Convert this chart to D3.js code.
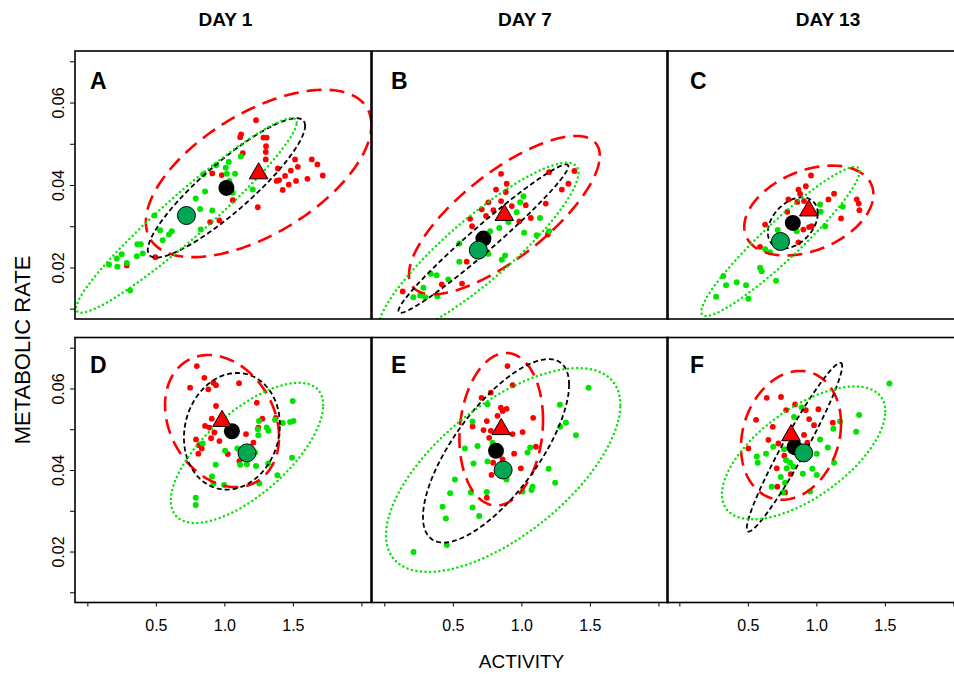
<!DOCTYPE html>
<html>
<head>
<meta charset="UTF-8">
<script src="https://d3js.org/d3.v7.min.js"></script>
<style>
  body { margin: 0; background: #fff; }
  svg { display: block; font-family: "Liberation Sans", Arial, sans-serif; }
</style>
</head>
<body>
<script>
// column titles, panel letters, ticks
const days = ["DAY 1", "DAY 7", "DAY 13"];
const letters = ["A", "B", "C", "D", "E", "F"];
const xTicks = [0, 0.5, 1.0, 1.5, 2.0];
const xLabelled = [0.5, 1.0, 1.5];
const yTicks = [0.01, 0.02, 0.03, 0.04, 0.05, 0.06, 0.07];
const yLabelled = [0.02, 0.04, 0.06];

// individual points [activity, metabolic rate]
const redA = [[1.231,0.0557],[1.122,0.0523],[1.115,0.0516],[1.285,0.0515],[1.309,0.0515],[1.304,0.0494],[1.302,0.0480],[1.134,0.0477],[1.302,0.0462],[0.912,0.0428],[0.981,0.0424],[1.390,0.0440],[1.516,0.0462],[1.638,0.0462],[1.679,0.0450],[1.536,0.0444],[1.485,0.0435],[1.443,0.0422],[1.382,0.0410],[1.470,0.0401],[1.523,0.0410],[1.606,0.0415],[1.718,0.0423],[1.426,0.0388],[1.061,0.0363],[1.244,0.0346],[0.896,0.0310],[0.964,0.0314],[0.288,0.0205],[0.496,0.0225],[1.400,0.0412]];
const greenA = [[0.158,0.0207],[0.215,0.0222],[0.219,0.0202],[0.251,0.0232],[0.288,0.0211],[0.312,0.0144],[0.365,0.0256],[0.390,0.0256],[0.361,0.0227],[0.404,0.0234],[0.489,0.0326],[0.531,0.0290],[0.550,0.0266],[0.596,0.0280],[0.616,0.0288],[0.791,0.0367],[0.823,0.0342],[0.828,0.0292],[0.859,0.0384],[0.912,0.0338],[0.847,0.0426],[0.939,0.0448],[1.010,0.0442],[1.032,0.0456],[1.018,0.0427],[1.078,0.0427],[1.036,0.0410],[1.061,0.0381],[1.120,0.0469],[1.207,0.0389]];
const redB = [[0.852,0.0427],[0.893,0.0403],[0.815,0.0389],[0.886,0.0383],[0.759,0.0358],[0.852,0.0361],[0.930,0.0349],[1.032,0.0351],[1.178,0.0355],[1.202,0.0431],[1.387,0.0434],[1.343,0.0403],[1.295,0.0389],[0.711,0.0341],[0.742,0.0325],[0.796,0.0339],[0.626,0.0318],[0.640,0.0300],[0.985,0.0312],[1.069,0.0320],[0.601,0.0214],[0.567,0.0161],[0.419,0.0159],[0.134,0.0142],[1.193,0.0280]];
const greenB = [[1.015,0.0373],[0.991,0.0358],[0.966,0.0334],[0.905,0.0310],[0.839,0.0296],[0.772,0.0288],[1.136,0.0320],[1.020,0.0284],[1.112,0.0278],[1.202,0.0288],[0.547,0.0258],[0.759,0.0233],[0.881,0.0229],[0.857,0.0219],[0.547,0.0214],[0.339,0.0185],[0.382,0.0181],[0.467,0.0171],[0.285,0.0151],[0.261,0.0132],[0.212,0.0128],[0.299,0.0128],[0.387,0.0130]];
const redC = [[0.961,0.0423],[0.923,0.0397],[0.869,0.0389],[1.129,0.0379],[1.088,0.0365],[0.796,0.0365],[0.861,0.0359],[0.910,0.0361],[0.788,0.0335],[0.947,0.0298],[0.966,0.0300],[0.626,0.0304],[0.905,0.0292],[0.589,0.0250],[0.869,0.0261],[1.295,0.0365],[1.309,0.0355],[1.314,0.0339],[1.180,0.0319],[0.881,0.0379]];
const greenC = [[1.027,0.0353],[1.032,0.0335],[1.193,0.0347],[1.064,0.0300],[0.857,0.0288],[0.718,0.0291],[0.626,0.0244],[0.662,0.0237],[0.589,0.0199],[0.601,0.0191],[0.321,0.0179],[0.341,0.0157],[0.419,0.0164],[0.487,0.0157],[0.268,0.0129],[0.504,0.0124],[0.706,0.0168]];
const redD = [[0.799,0.0655],[0.854,0.0626],[0.920,0.0614],[0.939,0.0608],[0.883,0.0598],[0.750,0.0602],[1.107,0.0613],[0.939,0.0557],[1.236,0.0565],[0.908,0.0526],[0.859,0.0508],[0.891,0.0504],[0.927,0.0492],[0.903,0.0478],[0.964,0.0471],[0.793,0.0475],[0.815,0.0461],[0.835,0.0453],[0.810,0.0440],[1.158,0.0488],[1.212,0.0467],[1.277,0.0526],[1.248,0.0504],[1.025,0.0439],[1.109,0.0422],[1.375,0.0528]];
const greenD = [[1.499,0.0569],[1.504,0.0520],[1.480,0.0518],[1.426,0.0515],[1.370,0.0523],[1.253,0.0520],[1.244,0.0500],[1.248,0.0485],[1.309,0.0504],[1.321,0.0496],[1.005,0.0447],[1.095,0.0453],[1.224,0.0443],[1.115,0.0413],[1.164,0.0414],[1.231,0.0410],[1.321,0.0416],[0.937,0.0413],[0.910,0.0384],[0.920,0.0367],[0.998,0.0363],[1.255,0.0367],[1.387,0.0387],[1.494,0.0430],[0.791,0.0332],[0.791,0.0314],[0.842,0.0465]];
const redE = [[0.899,0.0655],[0.936,0.0608],[0.777,0.0590],[0.709,0.0577],[0.850,0.0553],[0.892,0.0550],[0.863,0.0545],[0.748,0.0520],[0.826,0.0533],[1.086,0.0528],[0.644,0.0507],[0.724,0.0498],[0.777,0.0496],[0.765,0.0479],[0.936,0.0488],[1.009,0.0493],[0.947,0.0440],[0.794,0.0418],[0.863,0.0426],[0.996,0.0404],[0.782,0.0388],[1.106,0.0457],[0.748,0.0332]];
const greenE = [[1.490,0.0602],[1.281,0.0560],[1.325,0.0516],[1.283,0.0506],[1.398,0.0485],[0.644,0.0519],[0.588,0.0453],[0.680,0.0459],[0.753,0.0421],[0.651,0.0416],[1.064,0.0455],[1.045,0.0443],[1.199,0.0403],[1.247,0.0369],[1.082,0.0359],[1.074,0.0351],[1.009,0.0347],[0.892,0.0377],[0.515,0.0377],[0.480,0.0343],[0.631,0.0345],[0.748,0.0346],[0.425,0.0310],[0.449,0.0281],[0.644,0.0308],[0.692,0.0287],[0.456,0.0216],[0.213,0.0199],[0.753,0.0561],[0.790,0.0467]];
const redF = [[0.638,0.0577],[0.742,0.0579],[0.779,0.0547],[0.845,0.0561],[0.923,0.0547],[1.015,0.0549],[0.560,0.0523],[0.682,0.0506],[0.947,0.0525],[0.983,0.0510],[1.120,0.0516],[0.910,0.0486],[0.650,0.0474],[0.723,0.0465],[0.934,0.0467],[0.504,0.0453],[0.766,0.0435],[0.711,0.0404],[0.813,0.0390],[0.715,0.0359],[0.772,0.0345]];
const greenF = [[1.533,0.0612],[1.312,0.0535],[1.290,0.0494],[1.173,0.0519],[1.124,0.0501],[1.083,0.0455],[1.027,0.0475],[0.893,0.0553],[0.837,0.0530],[1.003,0.0440],[0.971,0.0403],[1.003,0.0388],[0.901,0.0391],[1.129,0.0418],[0.686,0.0457],[0.764,0.0451],[0.565,0.0433],[0.572,0.0418],[0.633,0.0440],[0.779,0.0424],[0.808,0.0418],[0.832,0.0408],[0.784,0.0404],[0.740,0.0383],[0.772,0.0369],[0.674,0.0359],[0.755,0.0345],[0.954,0.0347]];

// ellipses: [meanX, meanY, sdX, sdY, r] for red, black (all), green
const ellA = [[1.250,0.0428,0.823,0.0203,0.58],[1.015,0.0393,0.574,0.0169,0.89],[0.723,0.0326,0.805,0.0236,0.955]];
const ellB = [[0.876,0.0327,0.696,0.0192,0.75],[0.723,0.0270,0.620,0.0180,0.975],[0.686,0.0242,0.730,0.0212,0.885]];
const ellC = [[0.945,0.0338,0.471,0.0109,0.36],[0.828,0.0308,0.182,0.0062,0.37],[0.738,0.0263,0.578,0.0181,0.94]];
const ellD = [[0.983,0.0520,0.416,0.0162,-0.24],[1.055,0.0495,0.350,0.0143,0.11],[1.165,0.0442,0.556,0.0172,0.68]];
const ellE = [[0.853,0.0500,0.305,0.0187,0.12],[0.815,0.0447,0.533,0.0225,0.72],[0.867,0.0400,0.855,0.0250,0.64]];
const ellF = [[0.815,0.0485,0.365,0.0158,0.18],[0.840,0.0456,0.348,0.0207,0.96],[0.907,0.0442,0.596,0.0163,0.625]];

const reds = [redA, redB, redC, redD, redE, redF];
const greens = [greenA, greenB, greenC, greenD, greenE, greenF];
const ells = [ellA, ellB, ellC, ellD, ellE, ellF];

// layout
const W = 954, H = 674;
const colX = [75, 372, 667];
const panelW = 296;
const rowY = [51, 337.5];
const rowH = [268, 265];
const letterDx = [15, 19, 23];
const letterDy = [38, 35.5];
const dayX = [225.5, 525, 828];

const RED = "#ff0000", GREEN = "#00e400", MEANGREEN = "#00a651";
const ellStyle = [
  { stroke: RED, width: 2.6, dash: "15,8", cap: "butt" },
  { stroke: "#000", width: 1.8, dash: "5,3", cap: "butt" },
  { stroke: GREEN, width: 2.5, dash: "0,4.6", cap: "round" }
];

const svg = d3.select("body").append("svg")
  .attr("width", W).attr("height", H);

const ts = d3.range(0, 2 * Math.PI, Math.PI / 120);
function ellipsePoints(e) {
  const [cx, cy, sx, sy, r] = e;
  const d = Math.acos(r);
  return ts.map(t => [cx + sx * Math.cos(t), cy + sy * Math.cos(t - d)]);
}

letters.forEach((letter, i) => {
  const col = i % 3, row = Math.floor(i / 3);
  const x0 = colX[col], y0 = rowY[row], h = rowH[row];

  const x = d3.scaleLinear().domain([-0.09, 2.07]).range([x0, x0 + panelW]);
  const y = d3.scaleLinear().domain([0.0075, 0.0725]).range([y0 + h, y0]);

  const clipId = "clip" + letter;
  svg.append("clipPath").attr("id", clipId)
    .append("rect").attr("x", x0).attr("y", y0).attr("width", panelW).attr("height", h);

  const g = svg.append("g").attr("clip-path", `url(#${clipId})`);

  g.selectAll(".red").data(reds[i]).enter().append("circle")
    .attr("cx", d => x(d[0])).attr("cy", d => y(d[1]))
    .attr("r", 2.9).attr("fill", RED);

  g.selectAll(".green").data(greens[i]).enter().append("circle")
    .attr("cx", d => x(d[0])).attr("cy", d => y(d[1]))
    .attr("r", 3).attr("fill", GREEN);

  const line = d3.line()
    .x(d => x(d[0])).y(d => y(d[1]))
    .curve(d3.curveLinearClosed);

  ells[i].forEach((e, k) => {
    const s = ellStyle[k];
    g.append("path")
      .attr("d", line(ellipsePoints(e)))
      .attr("fill", "none")
      .attr("stroke", s.stroke)
      .attr("stroke-width", s.width)
      .attr("stroke-dasharray", s.dash)
      .attr("stroke-linecap", s.cap);
  });

  // means: black (all), green, red triangle
  const [eR, eK, eG] = ells[i];
  g.append("circle")
    .attr("cx", x(eK[0])).attr("cy", y(eK[1]))
    .attr("r", 8).attr("fill", "#000");
  g.append("circle")
    .attr("cx", x(eG[0])).attr("cy", y(eG[1]))
    .attr("r", 9).attr("fill", MEANGREEN)
    .attr("stroke", "#000").attr("stroke-width", 1);
  g.append("path")
    .attr("d", d3.symbol().type(d3.symbolTriangle).size(150)())
    .attr("transform", `translate(${x(eR[0])},${y(eR[1])})`)
    .attr("fill", RED).attr("stroke", "#000").attr("stroke-width", 1);

  // frame
  svg.append("rect")
    .attr("x", x0).attr("y", y0).attr("width", panelW).attr("height", h)
    .attr("fill", "none").attr("stroke", "#000").attr("stroke-width", 1.6);

  svg.append("text")
    .attr("x", x0 + letterDx[col]).attr("y", y0 + letterDy[row])
    .attr("font-size", 23).attr("font-weight", "bold")
    .text(letter);

  if (col === 0) {
    const ax = svg.append("g")
      .attr("transform", `translate(${x0},0)`)
      .call(d3.axisLeft(y).tickValues(yTicks).tickSize(5).tickSizeOuter(0)
        .tickFormat(v => yLabelled.some(l => Math.abs(l - v) < 1e-9) ? d3.format(".2f")(v) : ""));
    ax.select(".domain").remove();
    ax.selectAll("text")
      .attr("transform", "rotate(-90)")
      .attr("x", 0).attr("y", -11).attr("dy", null)
      .attr("text-anchor", "middle")
      .attr("font-size", 16).attr("font-family", "Liberation Sans, Arial, sans-serif")
      .attr("fill", "#000");
  }

  if (row === 1) {
    const ax = svg.append("g")
      .attr("transform", `translate(0,${y0 + h})`)
      .call(d3.axisBottom(x).tickValues(xTicks).tickSize(4).tickSizeOuter(0)
        .tickFormat(v => xLabelled.includes(v) ? d3.format(".1f")(v) : ""));
    ax.select(".domain").remove();
    ax.selectAll("text")
      .attr("y", 28.5).attr("dy", null)
      .attr("font-size", 16).attr("font-family", "Liberation Sans, Arial, sans-serif")
      .attr("fill", "#000");
  }
});

days.forEach((d, k) => {
  svg.append("text")
    .attr("x", dayX[k]).attr("y", 26)
    .attr("text-anchor", "middle")
    .attr("font-size", 19).attr("font-weight", "bold")
    .text(d);
});

svg.append("text")
  .attr("x", 521.5).attr("y", 668)
  .attr("text-anchor", "middle")
  .attr("font-size", 19)
  .text("ACTIVITY");

svg.append("text")
  .attr("transform", "translate(30,350) rotate(-90)")
  .attr("text-anchor", "middle")
  .attr("font-size", 22)
  .text("METABOLIC RATE");
</script>
</body>
</html>
